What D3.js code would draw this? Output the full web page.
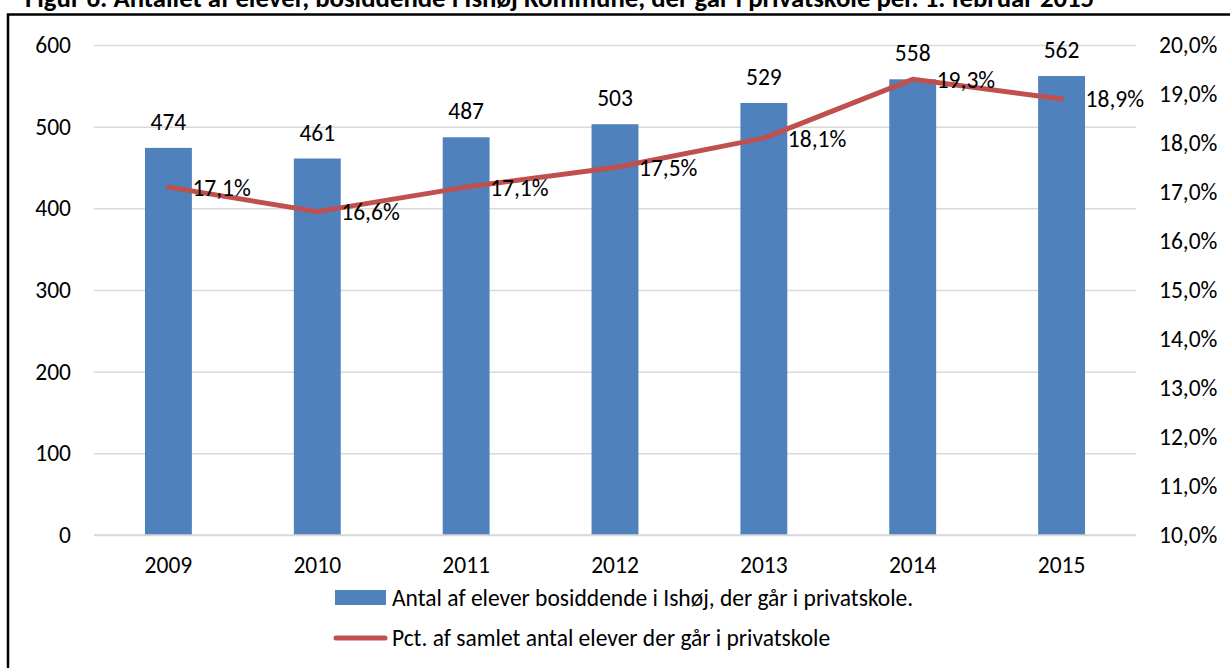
<!DOCTYPE html>
<html>
<head>
<meta charset="utf-8">
<script src="https://cdn.jsdelivr.net/npm/d3@7"></script>
<style>
  html, body { margin: 0; padding: 0; background: #fff; }
  svg { display: block; }
  text { font-family: Carlito, Lato, "Open Sans", sans-serif; fill: #000; }
</style>
</head>
<body>
<svg id="chart" width="1230" height="668"></svg>
<script>
const years = ["2009", "2010", "2011", "2012", "2013", "2014", "2015"];
const counts = [474, 461, 487, 503, 529, 558, 562];
const pcts = [17.1, 16.6, 17.1, 17.5, 18.1, 19.3, 18.9];
const leftTicks = [0, 100, 200, 300, 400, 500, 600];
const rightTicks = [10, 11, 12, 13, 14, 15, 16, 17, 18, 19, 20];
const titleText = "Figur 6: Antallet af elever, bosiddende i Ishøj Kommune, der går i privatskole per. 1. februar 2015";
const seriesNames = ["Antal af elever bosiddende i Ishøj, der går i privatskole.", "Pct. af samlet antal elever der går i privatskole"];

const BAR = "#4F81BD", LINE = "#C0504D", GRID = "#D9D9D9";
const FS = 23.5;

const svg = d3.select("#chart");
const plotL = 94, plotR = 1136, plotT = 45, plotB = 535;

const x = d3.scaleBand().domain(years).range([plotL, plotR]).paddingInner(0.685).paddingOuter(0.3425);
const yL = d3.scaleLinear().domain([0, 600]).range([plotB, plotT]);
const yR = d3.scaleLinear().domain([10, 20]).range([plotB, plotT]);
const pctFmt = v => d3.format(".1f")(v).replace(".", ",") + "%";

// frame + title
svg.append("path").attr("d", `M8,${668 + 5} L8,14.5 L${1230 + 5},14.5`)
  .attr("fill", "none").attr("stroke", "#000").attr("stroke-width", 2.5);
const title = svg.append("text").attr("x", 25).attr("y", 7).attr("font-weight", "bold")
  .attr("font-size", 25).text(titleText);
// fit title width to reference span
{
  const w = title.node().getComputedTextLength();
  const target = 1070;
  title.attr("font-size", 25 * target / w);
}

// gridlines + axes
const leftAxis = d3.axisLeft(yL).tickValues(leftTicks).tickSize(-(plotR - plotL)).tickPadding(23);
const gL = svg.append("g").attr("transform", `translate(${plotL},0)`).call(leftAxis);
gL.select(".domain").remove();
gL.selectAll(".tick line").attr("stroke", GRID).attr("stroke-width", 1.5);
gL.selectAll(".tick text").attr("font-size", FS).attr("fill", "#000");

const rightAxis = d3.axisRight(yR).tickValues(rightTicks).tickSize(0).tickPadding(23).tickFormat(pctFmt);
const gR = svg.append("g").attr("transform", `translate(${plotR},0)`).call(rightAxis);
gR.select(".domain").remove();
gR.selectAll(".tick text").attr("font-size", FS).attr("fill", "#000");

const bottomAxis = d3.axisBottom(x).tickSize(0).tickPadding(21);
const gB = svg.append("g").attr("transform", `translate(0,${plotB})`).call(bottomAxis);
gB.select(".domain").remove();
gB.selectAll(".tick text").attr("font-size", FS).attr("fill", "#000");
svg.selectAll(".tick text").style("font-family", "Carlito, Lato, 'Open Sans', sans-serif");

// bars
svg.append("g").selectAll("rect").data(years).join("rect")
  .attr("x", d => x(d)).attr("width", x.bandwidth())
  .attr("y", (d, i) => yL(counts[i])).attr("height", (d, i) => plotB - yL(counts[i]))
  .attr("fill", BAR);

// zero baseline on top
svg.append("line").attr("x1", plotL).attr("x2", plotR).attr("y1", plotB).attr("y2", plotB)
  .attr("stroke", GRID).attr("stroke-width", 1.5);

// bar labels
svg.append("g").selectAll("text").data(years).join("text")
  .attr("x", d => x(d) + x.bandwidth() / 2).attr("y", (d, i) => yL(counts[i]) - 18)
  .attr("text-anchor", "middle").attr("font-size", FS).text((d, i) => counts[i]);

// line
const cx = d => x(d) + x.bandwidth() / 2;
const line = d3.line().x(d => cx(d)).y((d, i) => yR(pcts[i])).curve(d3.curveLinear);
svg.append("path").datum(years).attr("d", line)
  .attr("fill", "none").attr("stroke", LINE).attr("stroke-width", 5)
  .attr("stroke-linecap", "round").attr("stroke-linejoin", "round");

// line labels
svg.append("g").selectAll("text").data(years).join("text")
  .attr("x", d => cx(d) + 24).attr("y", (d, i) => yR(pcts[i]))
  .attr("dy", "0.36em").attr("font-size", FS).text((d, i) => pctFmt(pcts[i]));

// legend
const lg = svg.append("g");
lg.append("rect").attr("x", 335).attr("y", 590).attr("width", 51).attr("height", 15).attr("fill", BAR);
lg.append("text").attr("x", 392).attr("y", 597.5).attr("dy", "0.36em").attr("font-size", FS).text(seriesNames[0]);
lg.append("line").attr("x1", 336).attr("x2", 385).attr("y1", 638).attr("y2", 638)
  .attr("stroke", LINE).attr("stroke-width", 5).attr("stroke-linecap", "round");
lg.append("text").attr("x", 392).attr("y", 638).attr("dy", "0.36em").attr("font-size", FS).text(seriesNames[1]);
</script>
</body>
</html>
